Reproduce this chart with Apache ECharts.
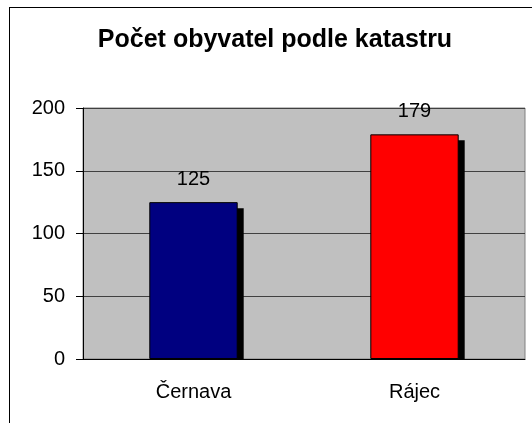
<!DOCTYPE html>
<html>
<head>
<meta charset="utf-8">
<script src="https://cdn.jsdelivr.net/npm/echarts@6/dist/echarts.min.js"></script>
<style>
  html, body { margin: 0; padding: 0; background: #fff; }
  #chart { width: 532px; height: 423px; }
  #frame {
    position: absolute; left: 9px; top: 7px; width: 700px; height: 700px;
    border: 1px solid #000; pointer-events: none;
  }
</style>
</head>
<body>
<div id="chart"></div>
<div id="frame"></div>
<script>
const titleText = "Počet obyvatel podle katastru";
const categories = ["Černava", "Rájec"];
const values = [125, 179];
const barColors = ["#000080", "#ff0000"];
const yTicks = { min: 0, max: 200, interval: 50 };

const font = "Liberation Sans, Arial, sans-serif";

const chart = echarts.init(document.getElementById("chart"));

const option = {
  animation: false,
  title: {
    text: titleText,
    left: 275,
    top: 28,
    padding: 0,
    textAlign: "center",
    textStyle: {
      fontFamily: font,
      fontSize: 25,
      fontWeight: "bold",
      color: "#000",
    },
  },
  grid: {
    left: 83,
    right: 7,
    top: 108,
    bottom: 64,
    show: true,
    backgroundColor: "#c0c0c0",
    borderColor: "#808080",
    borderWidth: 1,
  },
  xAxis: {
    type: "category",
    data: categories,
    axisLine: { lineStyle: { color: "#000", width: 1 } },
    axisTick: { length: 7, lineStyle: { color: "#000" } },
    axisLabel: {
      margin: 23,
      fontFamily: font,
      fontSize: 20,
      color: "#000",
    },
  },
  yAxis: {
    type: "value",
    min: yTicks.min,
    max: yTicks.max,
    interval: yTicks.interval,
    axisLine: { show: true, lineStyle: { color: "#000", width: 1 } },
    axisTick: { show: true, length: 7, lineStyle: { color: "#000" } },
    splitLine: { lineStyle: { color: "#404040", width: 1 } },
    axisLabel: {
      margin: 18,
      fontFamily: font,
      fontSize: 20,
      color: "#000",
    },
  },
  series: [
    {
      // drop shadow behind each bar, cut off at the axis like the original
      type: "custom",
      z: 1,
      data: values.map((v, i) => [i, v]),
      renderItem: function (params, api) {
        const top = api.coord([api.value(0), api.value(1)]);
        const base = api.coord([api.value(0), 0]);
        const w = api.size([1, 0])[0] * 0.4;
        const off = 6;
        return {
          type: "rect",
          shape: {
            x: top[0] - w / 2 + off,
            y: top[1] + off,
            width: w,
            height: base[1] - top[1] - off,
          },
          style: { fill: "#000" },
        };
      },
      silent: true,
    },
    {
      type: "bar",
      z: 2,
      barWidth: "40%",
      data: values.map((v, i) => ({
        value: v,
        itemStyle: { color: barColors[i] },
      })),
      itemStyle: { borderColor: "#000", borderWidth: 1 },
      label: {
        show: true,
        position: "top",
        distance: 13,
        fontFamily: font,
        fontSize: 20,
        color: "#000",
      },
    },
  ],
};

chart.setOption(option);
</script>
</body>
</html>
